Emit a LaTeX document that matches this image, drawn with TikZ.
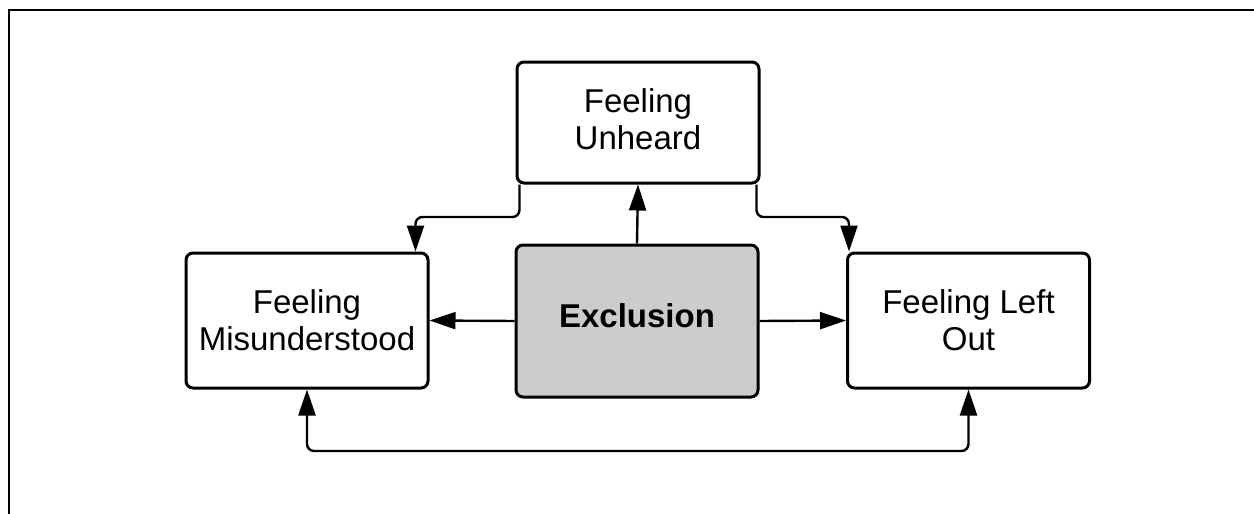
\documentclass[tikz,border=0pt]{standalone}
\usepackage{fontspec}
\setmainfont{Liberation Sans}
\usetikzlibrary{arrows.meta}
\begin{document}
\begin{tikzpicture}[x=1pt,y=-1pt,
  feelbox/.style={draw=black,line width=3pt,rounded corners=7pt,fill=white,
    minimum width=242pt,align=center,inner sep=0pt,
    font=\fontsize{33}{37}\selectfont},
  corebox/.style={feelbox,fill=black!20,font=\fontsize{33}{37}\selectfont\bfseries},
  tip/.tip={Triangle[length=26pt,width=17pt]},
  link/.style={draw=black,line width=2.4pt,rounded corners=7pt,-tip},
  bilink/.style={link,tip-tip}]
\useasboundingbox (0,0) rectangle (1254,514);
% frame: top and left edges only
\draw[line width=2.5pt] (9,514) -- (9,10) -- (1254,10);
% nodes
\node[feelbox,minimum height=121pt,text depth=6pt] (unheard) at (638,122.5) {Feeling\\Unheard};
\node[corebox,minimum height=152pt,text depth=11pt] (excl) at (637,321) {Exclusion};
\node[feelbox,minimum height=135pt] (misu) at (307,320.5) {Feeling\\Misunderstood};
\node[feelbox,minimum height=135pt] (left) at (968.5,320.5) {Feeling Left\\Out};
% connectors
\coordinate (ul) at ([xshift=4pt]unheard.south west);
\coordinate (ur) at ([xshift=-4pt]unheard.south east);
\coordinate (ml) at ([xshift=231pt]misu.north west);
\coordinate (lo) at ([xshift=3pt]left.north west);
\draw[link] (excl.north) -- (unheard.south);
\draw[link] (excl.west) -- (misu.east);
\draw[link] (excl.east) -- (left.west);
\draw[link] (ul) |- (ml |- 0,217) -- (ml);
\draw[link] (ur) |- (lo |- 0,217) -- (lo);
\draw[bilink] (misu.south) |- (450,451) -| (left.south);
\end{tikzpicture}
\end{document}
